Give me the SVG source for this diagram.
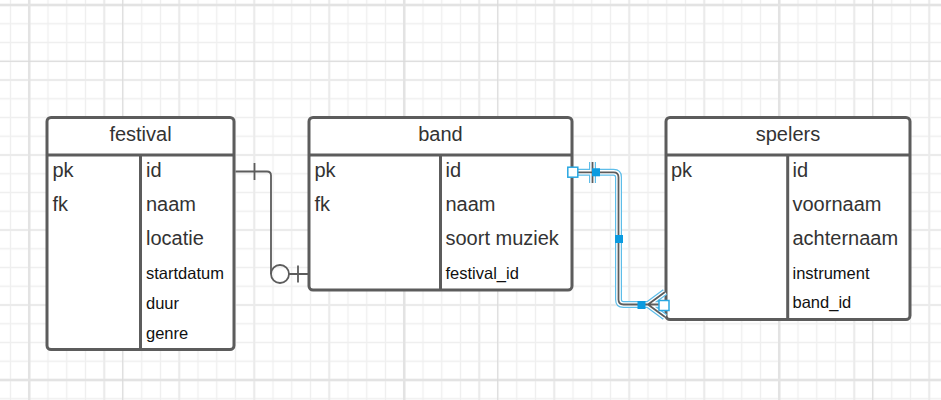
<svg xmlns="http://www.w3.org/2000/svg" width="941" height="400" viewBox="0 0 941 400">
<style>
.tbl{fill:#fff;stroke:#5c5c5c;stroke-width:3}
.sep{stroke:#5c5c5c;stroke-width:3;fill:none}
.hd{font-family:"Liberation Sans",Arial,sans-serif;font-size:20px;fill:#333;text-anchor:middle}
.lg{font-family:"Liberation Sans",Arial,sans-serif;font-size:20px;fill:#333}
.sm{font-family:"Liberation Sans",Arial,sans-serif;font-size:16.5px;fill:#111}
.ln{stroke:#5c5c5c;stroke-width:1.8;fill:none}
.halo{stroke:#5dbde9;stroke-width:7;fill:none;stroke-linejoin:round}
.halo2{stroke:#fff;stroke-width:4.6;fill:none;stroke-linejoin:round}
.hopen{fill:#fff;stroke:#29a7e1;stroke-width:1.5}
.hfill{fill:#0b9be0}
</style>
<defs>
<pattern id="minor" patternUnits="userSpaceOnUse" x="1.125" y="-4.375" width="18.75" height="18.75">
<path d="M9.375 0V18.75M0 9.375H18.75" stroke="#efefef" stroke-width="1.4"/>
</pattern>
</defs>
<g id="grid">
<rect width="941" height="400" fill="#fff"/>
<rect width="941" height="400" fill="url(#minor)"/>
<path d="M104.25 0V400M179.25 0V400M254.25 0V400M329.25 0V400M479.25 0V400M554.25 0V400M629.25 0V400M704.25 0V400M854.25 0V400M929.25 0V400M0 80H941M0 155H941M0 230H941M0 305H941" stroke="#ebebeb" stroke-width="2"/>
<path d="M29.25 0V400M404.25 0V400M779.25 0V400M0 5H941M0 380H941" stroke="#e3e3e3" stroke-width="2.5"/>
<path d="M122.75 0V400M497.75 0V400M872.75 0V400M0 61.25H941" stroke="#d9d9d9" stroke-width="1"/>
</g>
<g id="festival">
<rect class="tbl" x="47" y="117.5" width="187" height="232" rx="4"/>
<path class="sep" d="M47 155H234M140.5 155V349.5"/>
<text class="hd" x="140.5" y="141">festival</text>
<text class="lg" x="52.5" y="177">pk</text>
<text class="lg" x="52.5" y="211">fk</text>
<text class="lg" x="146" y="177">id</text>
<text class="lg" x="146" y="211">naam</text>
<text class="lg" x="146" y="245">locatie</text>
<text class="sm" x="146" y="278.5">startdatum</text>
<text class="sm" x="146" y="308.5">duur</text>
<text class="sm" x="146" y="338.5">genre</text>
</g>
<g id="band">
<rect class="tbl" x="309" y="117.5" width="263" height="172.5" rx="4"/>
<path class="sep" d="M309 155H572M440.5 155V290"/>
<text class="hd" x="440.5" y="141">band</text>
<text class="lg" x="314.5" y="177">pk</text>
<text class="lg" x="314.5" y="211">fk</text>
<text class="lg" x="445.5" y="177">id</text>
<text class="lg" x="445.5" y="211">naam</text>
<text class="lg" x="445.5" y="245">soort muziek</text>
<text class="sm" x="445.5" y="278.5">festival_id</text>
</g>
<g id="spelers">
<rect class="tbl" x="666" y="117.5" width="244" height="202" rx="4"/>
<path class="sep" d="M666 155H910M787.7 155V319.5"/>
<text class="hd" x="788" y="141">spelers</text>
<text class="lg" x="671" y="177">pk</text>
<text class="lg" x="792.5" y="177">id</text>
<text class="lg" x="792.5" y="211">voornaam</text>
<text class="lg" x="792.5" y="245">achternaam</text>
<text class="sm" x="792.5" y="278.5">instrument</text>
<text class="sm" x="792.5" y="308">band_id</text>
</g>
<g id="connectors">
<g id="festival-band">
<path class="ln" d="M235.5 171.5H267Q271 171.5 271 175.5V274"/>
<path class="ln" d="M254.5 163V180M298 265.5V282.5M289 274H308"/>
<circle class="ln" cx="280" cy="274" r="9" fill="#fff"/>
</g>
<g id="band-spelers">
<path class="halo" d="M573 172.3H613.5Q618.5 172.3 618.5 177.3V299.5Q618.5 304.5 623.5 304.5H664M592.5 162V183M648 304.5L665 292M648 304.5L665 317"/>
<path class="halo2" d="M573 172.3H613.5Q618.5 172.3 618.5 177.3V299.5Q618.5 304.5 623.5 304.5H664M592.5 162V183M648 304.5L665 292M648 304.5L665 317"/>
<path class="ln" d="M573 172.3H613.5Q618.5 172.3 618.5 177.3V299.5Q618.5 304.5 623.5 304.5H664M592.5 162V183M648 304.5L665 292M648 304.5L665 317"/>
<rect class="hopen" x="567.8" y="167.2" width="10" height="10"/>
<rect class="hopen" x="659" y="300.5" width="10" height="10"/>
<rect class="hfill" x="592" y="168.3" width="8" height="8"/>
<rect class="hfill" x="615" y="235" width="8" height="8"/>
<rect class="hfill" x="637.5" y="301" width="8" height="8"/>
</g>
</g>
</svg>
